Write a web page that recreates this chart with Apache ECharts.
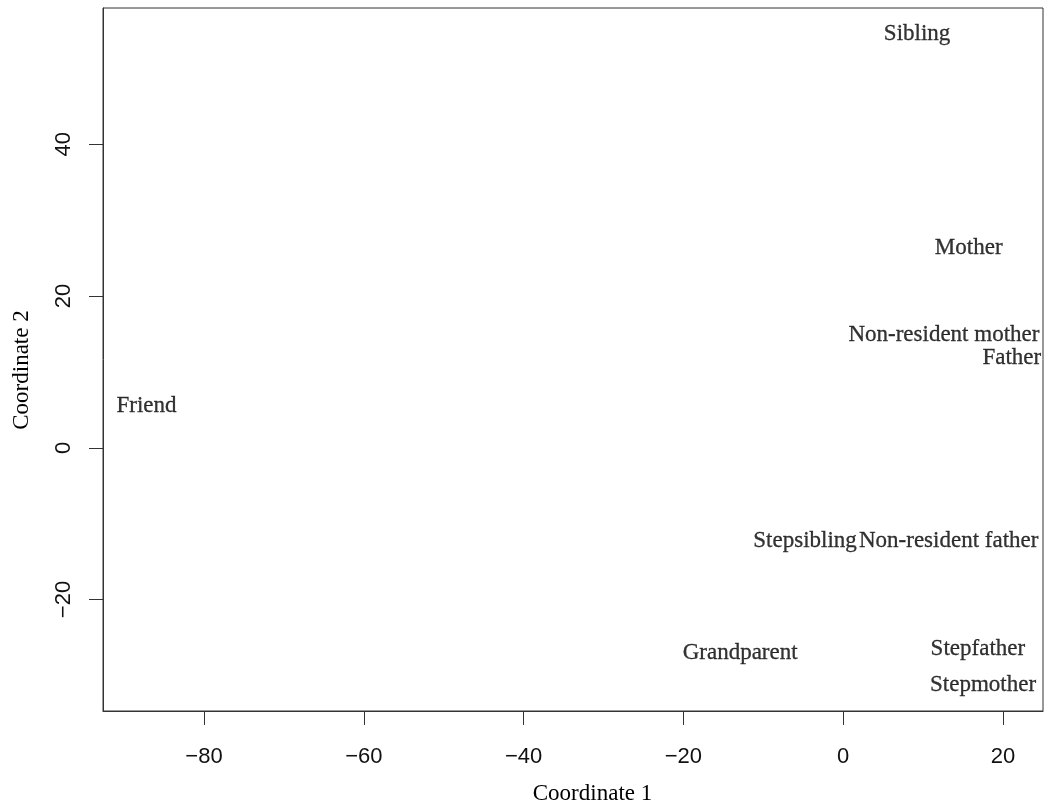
<!DOCTYPE html>
<html>
<head>
<meta charset="utf-8">
<script src="https://cdn.jsdelivr.net/npm/echarts@6/dist/echarts.min.js"></script>
<style>
  html, body { margin: 0; padding: 0; background: #ffffff; }
  #chart { width: 1046px; height: 807px; }
</style>
</head>
<body>
<div id="chart"></div>
<script>
// Multidimensional scaling of relationship types
const names = ['Sibling', 'Mother', 'Non-resident mother', 'Father', 'Friend',
  'Stepsibling', 'Non-resident father', 'Grandparent', 'Stepfather', 'Stepmother'];
const coord1 = [9.24, 15.7, 12.6, 21.1, -87.2, -4.78, 13.2, -12.9, 16.85, 17.5];
const coord2 = [55.0, 26.7, 15.3, 12.3, 5.96, -11.95, -11.95, -26.7, -26.1, -30.85];
const xTicks = [-80, -60, -40, -20, 0, 20];
const yTicks = [-20, 0, 20, 40];

const serif = '"Liberation Serif", "DejaVu Serif", serif';
const sans = '"Liberation Sans", Arial, sans-serif';
const ink = '#111111';
const axisLineStyle = { color: '#333333', width: 1 };

const points = names.map((n, i) => ({ name: n, value: [coord1[i], coord2[i]] }));

const chart = echarts.init(document.getElementById('chart'), null, { renderer: 'canvas' });
chart.setOption({
  animation: false,
  backgroundColor: '#ffffff',
  grid: { left: 103, right: 3, top: 8, bottom: 96, containLabel: false,
    show: true, borderColor: '#333333', borderWidth: 1, backgroundColor: 'transparent' },
  xAxis: {
    type: 'value', min: -92.64, max: 25.0,
    axisLine: { show: true, onZero: false, lineStyle: axisLineStyle },
    axisTick: { show: true, length: 14, inside: false, customValues: xTicks, lineStyle: axisLineStyle },
    axisLabel: { customValues: xTicks, margin: 35, fontFamily: sans, fontSize: 22, color: ink,
      formatter: v => String(v).replace('-', '\u2212') },
    splitLine: { show: false }
  },
  yAxis: {
    type: 'value', min: -34.7, max: 57.97,
    axisLine: { show: true, onZero: false, lineStyle: axisLineStyle },
    axisTick: { show: true, length: 14, inside: false, customValues: yTicks, lineStyle: axisLineStyle },
    axisLabel: { customValues: yTicks, rotate: 90, margin: 28, fontFamily: sans, fontSize: 22, color: ink,
      formatter: v => String(v).replace('-', '\u2212') },
    splitLine: { show: false }
  },
  graphic: [
    { type: 'text', x: 592.5, y: 794,
      style: { text: 'Coordinate 1', font: '23px ' + serif, fill: '#000', align: 'center', verticalAlign: 'middle' } },
    { type: 'text', x: 22, y: 370, rotation: Math.PI / 2,
      style: { text: 'Coordinate 2', font: '23px ' + serif, fill: '#000', align: 'center', verticalAlign: 'middle' } }
  ],
  series: [{
    type: 'scatter',
    data: points,
    symbol: 'circle',
    symbolSize: 2,
    itemStyle: { color: 'rgba(255,255,255,0)' },
    label: {
      show: true, position: [1, 4], formatter: p => p.name,
      fontFamily: serif, fontSize: 23, color: '#000000',
      textBorderColor: '#000000', textBorderWidth: 0.3,
      align: 'center', verticalAlign: 'middle'
    },
    labelLayout: { hideOverlap: false },
    emphasis: { disabled: true }
  }]
});
</script>
</body>
</html>
